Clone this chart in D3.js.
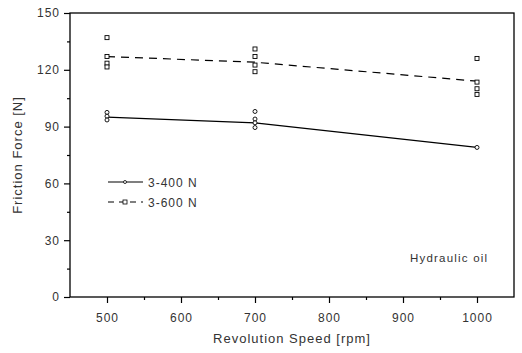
<!DOCTYPE html>
<html><head><meta charset="utf-8">
<script src="https://cdn.jsdelivr.net/npm/d3@7"></script>
<style>body{margin:0;background:#fff}svg{font-family:"Liberation Sans",Arial,sans-serif}</style>
</head><body><svg id="c" width="522" height="353"></svg>
<script>
const speeds = [500, 700, 1000];
const mean400 = [95, 92, 79];
const mean600 = [127, 124, 114];
const pts400 = [[500, 97.5], [500, 95.5], [500, 93.5], [700, 98], [700, 94], [700, 92], [700, 89.5], [1000, 79]];
const pts600 = [[500, 137], [500, 127], [500, 123.5], [500, 121.5], [700, 131], [700, 127], [700, 122.5], [700, 119], [1000, 126], [1000, 113.5], [1000, 110], [1000, 107]];
const xTicks = [500, 600, 700, 800, 900, 1000];
const yTicks = [0, 30, 60, 90, 120, 150];

const svg = d3.select("#c");
const L = 70, R = 514, T = 13, B = 297;
const x = d3.scaleLinear().domain([450, 1050]).range([L, R]);
const y = d3.scaleLinear().domain([0, 150]).range([B, T]);

svg.append("rect").attr("x", L).attr("y", T).attr("width", R - L).attr("height", B - T)
  .attr("fill", "none").attr("stroke", "#000").attr("stroke-width", 1.3);

svg.append("g").attr("transform", `translate(0,${B})`)
  .call(d3.axisBottom(x).tickValues(xTicks).tickSize(6).tickPadding(10).tickFormat(d3.format("d")));
svg.append("g").attr("transform", `translate(0,${B})`)
  .call(d3.axisBottom(x).tickValues(d3.range(550, 1050, 100)).tickSize(3).tickFormat(""));
svg.append("g").attr("transform", `translate(${L},0)`)
  .call(d3.axisLeft(y).tickValues(yTicks).tickSize(6).tickPadding(4));
svg.append("g").attr("transform", `translate(${L},0)`)
  .call(d3.axisLeft(y).tickValues(d3.range(15, 150, 30)).tickSize(3).tickFormat(""));
svg.selectAll(".domain").attr("stroke", "none");
svg.selectAll(".tick line").attr("stroke", "#000").attr("stroke-width", 1.2);
svg.selectAll(".tick text").attr("font-size", 12).attr("fill", "#333")
  .attr("font-family", "'Liberation Sans',Arial,sans-serif").attr("letter-spacing", 1);

const line = d3.line().x(d => x(d[0])).y(d => y(d[1]));
svg.append("path").datum(speeds.map((s, i) => [s, mean400[i]]))
  .attr("d", line).attr("fill", "none").attr("stroke", "#000").attr("stroke-width", 1.2);
svg.append("path").datum(speeds.map((s, i) => [s, mean600[i]]))
  .attr("d", line).attr("fill", "none").attr("stroke", "#000").attr("stroke-width", 1.2)
  .attr("stroke-dasharray", "8,6");

svg.selectAll(".m600").data(pts600).join("rect")
  .attr("x", d => x(d[0]) - 2).attr("y", d => y(d[1]) - 2).attr("width", 4).attr("height", 4)
  .attr("fill", "#fff").attr("stroke", "#000").attr("stroke-width", 0.9);
svg.selectAll(".m400").data(pts400).join("circle")
  .attr("cx", d => x(d[0])).attr("cy", d => y(d[1])).attr("r", 2)
  .attr("fill", "#fff").attr("stroke", "#000").attr("stroke-width", 0.9);

const lg = svg.append("g");
lg.append("line").attr("x1", 108).attr("x2", 143).attr("y1", 182).attr("y2", 182)
  .attr("stroke", "#000").attr("stroke-width", 1.2);
lg.append("circle").attr("cx", 125).attr("cy", 182).attr("r", 1.5).attr("fill", "#fff").attr("stroke", "#000").attr("stroke-width", 0.8);
lg.append("line").attr("x1", 108).attr("x2", 143).attr("y1", 202).attr("y2", 202)
  .attr("stroke", "#000").attr("stroke-width", 1.2).attr("stroke-dasharray", "6,5");
lg.append("rect").attr("x", 123).attr("y", 200).attr("width", 4).attr("height", 4).attr("fill", "#fff").attr("stroke", "#000").attr("stroke-width", 0.8);
lg.append("text").attr("x", 148).attr("y", 186.5).attr("font-size", 12).attr("letter-spacing", 1).attr("fill", "#333").text("3-400 N");
lg.append("text").attr("x", 148).attr("y", 206.5).attr("font-size", 12).attr("letter-spacing", 1).attr("fill", "#333").text("3-600 N");

svg.append("text").attr("x", 410).attr("y", 262).attr("font-size", 11.5).attr("letter-spacing", 1.2).attr("fill", "#333").text("Hydraulic oil");

svg.append("text").attr("x", 292).attr("y", 343).attr("text-anchor", "middle").attr("font-size", 13)
  .attr("letter-spacing", 1).attr("fill", "#333").text("Revolution Speed [rpm]");
svg.append("text").attr("transform", "translate(22,155) rotate(-90)").attr("text-anchor", "middle")
  .attr("font-size", 13).attr("letter-spacing", 1).attr("fill", "#333").text("Friction Force [N]");
</script></body></html>
